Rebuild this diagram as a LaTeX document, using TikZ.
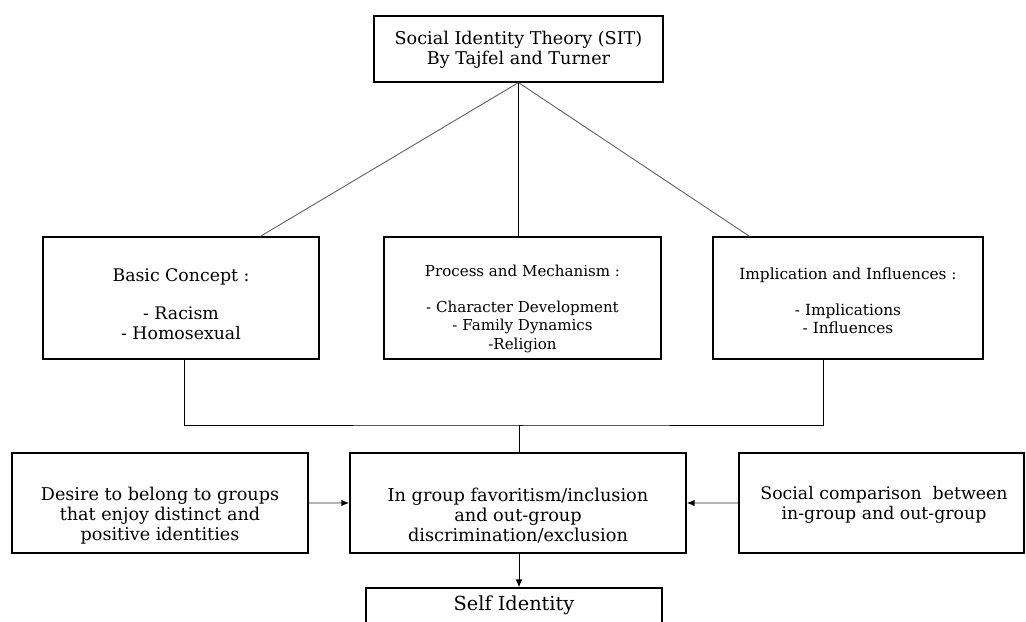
\documentclass[tikz,border=0pt]{standalone}
\usepackage{fontspec}
\setmainfont{DejaVu Serif}
\usetikzlibrary{arrows.meta,calc}

\begin{document}
\begin{tikzpicture}[x=0.75pt,y=-0.75pt,
  box/.style={draw,line width=0.9pt,inner sep=0pt},
  txt/.style={align=center,inner sep=0pt},
  link/.style={line width=0.7pt},
  feed/.style={line width=2.1pt,draw=gray!60,-{Latex[black,length=6pt,width=5pt]}}]
  \clip (0,0) rectangle (1026,622);
  % theory at the top
  \node[box,minimum width=216.75pt,minimum height=49.5pt] (sit) at (518.5,49) {};
  \node[txt,font=\fontsize{13.2}{15}\selectfont] (sit-t) at (518.5,50)
    {Social Identity Theory (SIT)\\By Tajfel and Turner};
  % three branches
  \node[box,minimum width=207pt,minimum height=91.5pt] (basic) at (181,298) {};
  \node[txt,font=\fontsize{13}{15}\selectfont] (basic-t) at (181,304)
    {Basic Concept :\\[13.5pt]- Racism\\- Homosexual};
  \node[box,minimum width=207.75pt,minimum height=91.5pt] (process) at (522.5,298) {};
  \node[txt,font=\fontsize{11.3}{13.9}\selectfont] (process-t) at (522.5,309)
    {Process and Mechanism :\\[12.4pt]- Character Development\\- Family Dynamics\\-Religion};
  \node[box,minimum width=202.5pt,minimum height=91.5pt] (impl) at (848,298) {};
  \node[txt,font=\fontsize{11.5}{13.5}\selectfont] (impl-t) at (848,301)
    {Implication and Influences :\\[13.5pt]- Implications\\- Influences};
  % lower row
  \node[box,minimum width=222pt,minimum height=75pt] (desire) at (160,503) {};
  \node[txt,font=\fontsize{13.2}{15}\selectfont] (desire-t) at (160,516)
    {Desire to belong to groups\\that enjoy distinct and\\positive identities};
  \node[box,minimum width=252pt,minimum height=75pt] (favor) at (518,503) {};
  \node[txt,font=\fontsize{13.3}{15}\selectfont] (favor-t) at (518,516)
    {In group favoritism/inclusion\\and out-group\\discrimination/exclusion};
  \node[box,minimum width=213.75pt,minimum height=75pt] (compare) at (881.5,503) {};
  \node[txt,font=\fontsize{13}{15}\selectfont] (compare-t) at (884,505)
    {Social comparison~~between\\in-group and out-group};
  \node[box,minimum width=222pt,text height=16.5pt,text depth=30pt,anchor=base,
    font=\fontsize{14.5}{16}\selectfont] (self) at (514,610) {Self Identity};
  % connectors
  \coordinate (bus) at (519,425);
  \draw[link,draw=gray!80!black] (sit.south) -- ($(basic.north west)!0.786!(basic.north east)$);
  \draw[link,draw=gray!80!black] (sit.south) -- ($(impl.north west)!0.137!(impl.north east)$);
  \draw[link] (sit.south) -- (sit.south |- process.north);
  \draw[link] (basic.south -| 184,0) |- (bus) -| ($(impl.south west)!0.411!(impl.south east)$);
  \draw[link] (bus -| process.south) -- (bus);
  \draw[link] (bus) -- (bus |- favor.north);
  \draw[feed] (desire.east) -- (favor.west);
  \draw[feed] (compare.west) -- (favor.east);
  \draw[link,-{Latex[length=6pt,width=5pt]}] (favor.south -| bus) -- (bus |- self.north);
\end{tikzpicture}
\end{document}
